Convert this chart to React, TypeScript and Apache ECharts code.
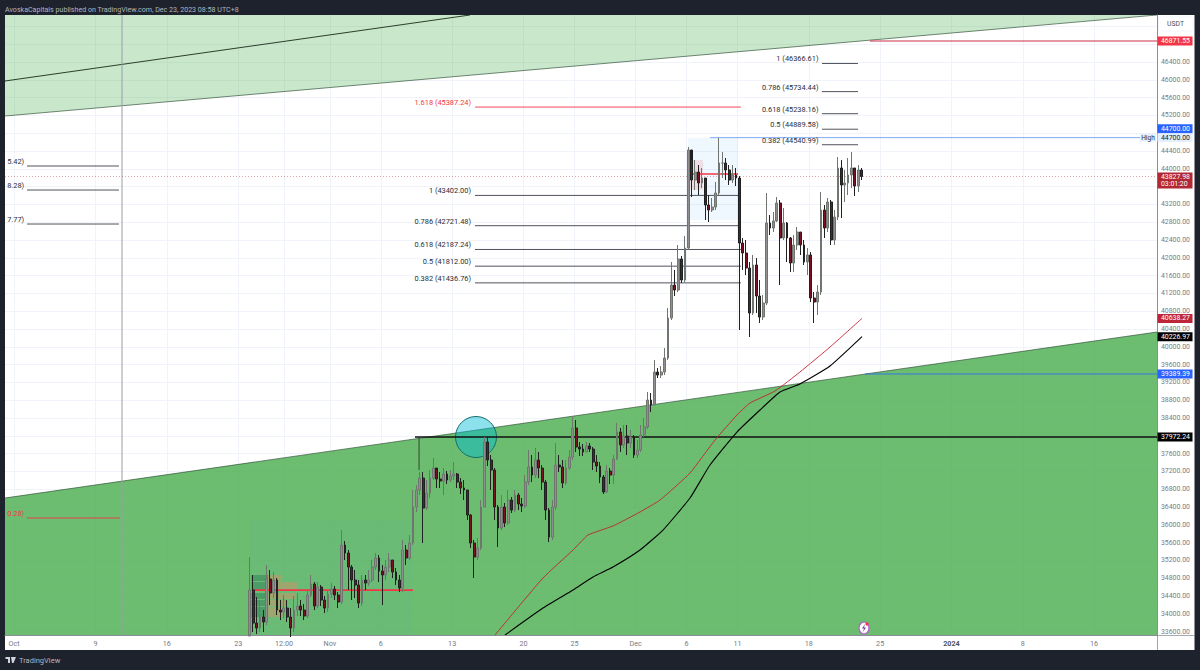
import React, { useEffect, useRef } from "react";
import * as echarts from "echarts";

const xTickDays = [0, 8, 15, 22, 26.5, 31, 36, 43, 50, 55, 61, 66, 71, 78, 85, 92, 99, 106];
const xTickLabels = ["Oct", "9", "16", "23", "12:00", "Nov", "6", "13", "20", "25", "Dec", "6", "11", "18", "25", "2024", "8", "16"];
const priceTicks = [33600, 34000, 34400, 34800, 35200, 35600, 36000, 36400, 36800, 37200, 37600, 38000, 38400, 38800, 39200, 39600, 40000, 40400, 40800, 41200, 41600, 42000, 42400, 42800, 43200, 43600, 44000, 44400, 44800, 45200, 45600, 46000, 46400, 46800, 47200];
const priceLabelled = [33600, 34000, 34400, 34800, 35200, 35600, 36000, 36400, 36800, 37200, 37600, 38000, 38400, 38800, 39200, 39600, 40000, 40400, 40800, 41200, 41600, 42000, 42400, 42800, 43200, 44000, 44400, 45200, 45600, 46000, 46400];

const candleFirstDay = 23.14;
const candleLastDay = 83.19;
const closes = [
  34535, 33793, 33681, 33928, 33816, 34782, 34467, 34759, 34085, 34040,
  34130, 33928, 33681, 34085, 34175, 34085, 33950, 34422, 34669, 34175,
  34602, 34310, 34130, 34445, 34557, 34422, 34265, 35546, 35366, 35051,
  34759, 34647, 34242, 34759, 34692, 34759, 35051, 35254, 34961, 34872,
  35051, 35209, 34939, 34759, 34580, 35433, 35254, 35591, 36400, 36782,
  37051, 36377, 36714, 37051, 37276, 37029, 36984, 37141, 37006, 37096,
  37141, 36961, 36827, 36782, 36220, 35591, 35276, 35478, 36400, 37860,
  37456, 37231, 36400, 35928, 36400, 36040, 36557, 36332, 36669, 36467,
  36422, 36961, 37298, 37119, 37456, 37276, 36961, 36332, 35725, 36400,
  37343, 37298, 36939, 37276, 37523, 38175, 37748, 37703, 37636, 37771,
  37703, 37411, 37321, 37074, 36737, 37209, 37119, 37478, 38085, 37793,
  37995, 37838, 37973, 37568, 37681, 38018, 38197, 38804, 38692, 39433,
  39366, 39433, 39748, 40647, 41388, 41276, 41973, 41501, 42220, 44422,
  43748, 43928, 43681, 43793, 43186, 43074, 43141, 43456, 44130, 44130,
  43973, 43748, 43860, 43793, 42332, 42108, 41770, 40760, 41838, 41141,
  40669, 40984, 42782, 42669, 42827, 43231, 42445, 42782, 42445, 41883,
  42287, 42579, 42287, 41905, 42063, 41096, 41006, 41231, 43074, 42669,
  43254, 42400, 42917, 44018, 43636, 43681, 43860, 44018, 43613, 43973,
  43827.98,
];
const highs = [
  35276, 34872, 34377, 34310, 34085, 35096, 34984, 34939, 34804, 34310,
  34422, 34310, 34130, 34400, 34467, 34310, 34220, 34535, 34872, 34714,
  34714, 34647, 34400, 34535, 34692, 34625, 34490, 35883, 35636, 35433,
  35096, 34984, 34759, 34872, 34872, 34984, 35209, 35366, 35321, 35096,
  35209, 35366, 35209, 35029, 34872, 35658, 35546, 35770, 36782, 36894,
  37186, 37186, 37006, 37231, 37501, 37231, 37186, 37276, 37209, 37231,
  37411, 37164, 37051, 37006, 36782, 36242, 35658, 35703, 36557, 37973,
  37973, 37568, 37276, 36445, 36669, 36490, 36782, 36624, 36782, 36714,
  36602, 37119, 37681, 37568, 37726, 37636, 37343, 37006, 36377, 36557,
  37838, 37568, 37456, 37456, 37681, 38422, 38355, 37860, 37815, 37860,
  37838, 37748, 37568, 37411, 37119, 37343, 37276, 37568, 38287, 38175,
  38242, 38242, 38130, 38018, 37905, 38242, 38400, 38984, 38962, 39703,
  39523, 39568, 39973, 40872, 41905, 41726, 42287, 42040, 42490, 44490,
  44197, 44197, 44085, 44018, 43748, 43411, 43344, 43703, 44692, 44377,
  44242, 44085, 44085, 44018, 43838, 42445, 42400, 41905, 42063, 41995,
  41501, 41164, 43456, 42961, 43029, 43366, 43299, 43119, 42804, 42467,
  42512, 42692, 42579, 42400, 42220, 42130, 41231, 41388, 43478, 43186,
  43344, 43299, 43074, 44265, 44197, 43973, 44242, 44377, 43973, 44085,
  44018,
];
const lows = [
  33501, 33591, 33546, 33591, 33591, 33748, 34197, 34355, 33973, 33860,
  33905, 33816, 33478, 33591, 33950, 33950, 33860, 33905, 34377, 34085,
  34130, 34175, 34018, 34040, 34355, 34310, 34130, 34220, 35209, 34535,
  34310, 34355, 34130, 34175, 34535, 34625, 34714, 34984, 34714, 34197,
  34759, 34939, 34804, 34647, 34490, 34490, 35096, 35209, 35546, 36287,
  36669, 35591, 36332, 36602, 37006, 36827, 36827, 36669, 36916, 36961,
  37006, 36827, 36692, 36557, 36108, 35478, 34804, 35209, 35433, 36400,
  37321, 36782, 36108, 35501, 35883, 35950, 35995, 36265, 36287, 36332,
  36287, 36377, 36894, 36961, 37051, 37051, 36782, 36108, 35613, 35658,
  36332, 37186, 36827, 36894, 37231, 37456, 37636, 37546, 37546, 37636,
  37636, 37231, 37186, 36939, 36692, 36714, 36916, 36916, 37456, 37636,
  37726, 37568, 37726, 37501, 37501, 37636, 37973, 38153, 38535, 38692,
  39299, 39299, 39366, 39703, 40602, 41141, 41231, 41434, 41456, 42175,
  43366, 43523, 43411, 43568, 42849, 42804, 43029, 43074, 43411, 43793,
  43748, 43636, 43681, 43613, 40377, 41726, 41613, 40220, 40714, 40760,
  40535, 40602, 40939, 42512, 42579, 42804, 41388, 42400, 41905, 41681,
  41681, 42175, 42063, 41838, 41613, 41006, 40535, 40714, 41164, 42445,
  42579, 42287, 42287, 42849, 42894, 43254, 43411, 43568, 43388, 43478,
  43748,
];
const firstOpen = 33501;

const redAverage = [
  [47.2, 33523], [51.91, 34804], [54.86, 35433], [56.33, 35770], [58.78, 35973], [61.43, 36287], [63.4, 36557], [66.34, 37164],
  [68.79, 37905], [70.95, 38467], [72.23, 38737], [74.68, 39006], [77.13, 39433], [80.08, 39995], [83.22, 40638.27],
];
const blackAverage = [
  [48.18, 33523], [51.91, 34130], [54.86, 34535], [56.82, 34827], [58.78, 35051], [61.43, 35433], [63.69, 35883], [66.34, 36602],
  [68.3, 37343], [70.95, 38085], [73.21, 38580], [75.17, 38984], [77.13, 39164], [80.08, 39568], [83.22, 40226.97],
];

const paneLeftDay = -0.883;
const paneRightDay = 112.17;
const paneBottomPrice = 33524;
const paneTopPrice = 47456;

const lightBand = [[paneLeftDay, 45186], [paneRightDay, 47456], [paneLeftDay, 47456]];
const darkBand = [[paneLeftDay, 36602], [paneRightDay, 40333], [paneRightDay, 33524], [paneLeftDay, 33524]];
const bandEdges = [
  [paneLeftDay, 45186, paneRightDay, 47456],
  [paneLeftDay, 36602, paneRightDay, 40333],
];
const blackTrend = [[paneLeftDay, 45973, 44.75, 47456]];
const verticalMarker = [[10.6, paneBottomPrice, 10.6, paneTopPrice]];

const lowerRangeBox = [[23.2, 39.16, 33524, 36108]];
const upperRangeBox = [[66.14, 71.05, 42849, 44700]];
const profileTan = [
  [24.93, 26.3, 34737, 34872], [24.93, 27.87, 34512, 34714], [24.93, 27.58, 34332, 34467], [24.93, 26.6, 34175, 34310], [24.93, 26.4, 33928, 34152],
];
const profileDark = [
  [23.3, 24.93, 34737, 34872], [23.3, 24.93, 34512, 34714], [23.3, 24.93, 34332, 34467], [23.3, 24.93, 34175, 34310], [23.3, 24.93, 33928, 34152],
];
const profilePink = [[66.3, 67.6, 43523, 44197]];
const pocLines = [
  [23.45, 34532, 39.16, 34532],
  [66.14, 43883, 71.05, 43883],
];

const fibDark = [
  [45.24, 43402, 71.34, 43402], [45.24, 42721.48, 71.34, 42721.48], [45.24, 42187.24, 71.34, 42187.24], [45.24, 41812, 71.34, 41812], [45.24, 41436.76, 71.34, 41436.76],
  [79.29, 46366.61, 82.83, 46366.61], [79.29, 45734.44, 82.83, 45734.44], [79.29, 45238.16, 82.83, 45238.16], [79.29, 44889.58, 82.83, 44889.58], [79.29, 44540.99, 82.83, 44540.99],
  [1.28, 44063, 10.3, 44063], [1.28, 43523, 10.3, 43523], [1.28, 42759, 10.3, 42759],
];
const fibRed = [[45.24, 45387.24, 71.34, 45387.24], [1.28, 36153, 10.4, 36153]];
const fibDarkText = [
  [44.85, 43402], [44.85, 42721.48], [44.85, 42187.24], [44.85, 41812], [44.85, 41436.76],
  [78.95, 46366.61], [78.95, 45734.44], [78.95, 45238.16], [78.95, 44889.58], [78.95, 44540.99],
  [1.0, 44063], [1.0, 43523], [1.0, 42759],
];
const fibDarkLabels = [
  "1 (43402.00)", "0.786 (42721.48)", "0.618 (42187.24)", "0.5 (41812.00)", "0.382 (41436.76)",
  "1 (46366.61)", "0.786 (45734.44)", "0.618 (45238.16)", "0.5 (44889.58)", "0.382 (44540.99)",
  "5.42)", "8.28)", "7.77)",
];
const fibRedText = [[44.85, 45387.24], [1.0, 36153]];
const fibRedLabels = ["1.618 (45387.24)", "0.28)"];

const redLevel = [[84.0, 46871.55, paneRightDay, 46871.55]];
const highLevel = [[68.3, 44700, 110.5, 44700]];
const blueLevel = [[83.51, 39389.39, paneRightDay, 39389.39]];
const blackLevel = [[39.35, 37972.24, paneRightDay, 37972.24]];
const blackAnchor = [[39.75, 37972.24, 39.75, 37231]];
const currentLevel = [[paneLeftDay, 43827.98, paneRightDay, 43827.98]];

const dropCircle = [[45.34, 37973]];
const circleRadiusDays = 2.01;

const tagPrices = [46871.55, 44700, 44700, 43827.98, 40638.27, 40226.97, 39389.39, 37972.24];
const tagLabels = ["46871.55", "44700.00", "44700.00", "43827.98", "40638.27", "40226.97", "39389.39", "37972.24"];
const tagFills = ["#f23645", "#2962ff", "#e3effd", "#b22833", "#bd2638", "#000000", "#2962ff", "#000000"];
const tagInks = ["#ffffff", "#ffffff", "#131722", "#ffffff", "#ffffff", "#ffffff", "#ffffff", "#ffffff"];
const tagShifts = [0, -9, 0, 4, 0, 0, 0, 0];
const tagHeights = [9, 9, 8.5, 16, 9, 9, 9, 9];
const countdownText = "03:01:20";

const uiFont = "Roboto, 'Noto Sans', sans-serif";

function segments(name: string, data: number[][], color: string, width: number, dash?: number[], clip = true) {
  return {
    type: "custom", name, data, silent: true, clip,
    renderItem: (_p: any, api: any) => {
      const a = api.coord([api.value(0), api.value(1)]);
      const b = api.coord([api.value(2), api.value(3)]);
      return {
        type: "line",
        shape: { x1: a[0], y1: a[1], x2: b[0], y2: b[1] },
        style: { stroke: color, lineWidth: width, lineDash: dash, fill: null },
      };
    },
  };
}

function boxes(name: string, data: number[][], fill: string) {
  return {
    type: "custom", name, data, silent: true, clip: true,
    renderItem: (_p: any, api: any) => {
      const a = api.coord([api.value(0), api.value(3)]);
      const b = api.coord([api.value(1), api.value(2)]);
      return { type: "rect", shape: { x: a[0], y: a[1], width: b[0] - a[0], height: b[1] - a[1] }, style: { fill } };
    },
  };
}

function band(name: string, points: number[][], fill: string) {
  return {
    type: "custom", name, data: [points[0]], silent: true, clip: true,
    renderItem: (_p: any, api: any) => ({
      type: "polygon",
      shape: { points: points.map((pt) => api.coord(pt)) },
      style: { fill },
    }),
  };
}

function texts(name: string, data: number[][], labels: string[], color: string) {
  return {
    type: "custom", name, data, silent: true,
    renderItem: (p: any, api: any) => {
      const a = api.coord([api.value(0), api.value(1)]);
      return {
        type: "text", x: a[0], y: a[1] - 4.5,
        style: { text: labels[p.dataIndex], fill: color, font: `7.4px ${uiFont}`, textAlign: "right", textVerticalAlign: "middle" },
      };
    },
  };
}

export default function App() {
  const ref = useRef<HTMLDivElement>(null);
  useEffect(() => {
    const chart = echarts.init(ref.current!, undefined, { renderer: "svg" });
    const step = (candleLastDay - candleFirstDay) / (closes.length - 1);
    const candles = closes.map((c, i) => [
      candleFirstDay + i * step,
      i === 0 ? firstOpen : closes[i - 1],
      c,
      lows[i],
      highs[i],
    ]);
    chart.setOption({
      animation: false,
      backgroundColor: "#1e222d",
      grid: { left: 5, top: 15, width: 1152, height: 620, show: false },
      xAxis: {
        type: "value", min: paneLeftDay, max: paneRightDay,
        axisLine: { show: true, onZero: false, lineStyle: { color: "#8a8d96", width: 1 } },
        axisTick: { show: false, customValues: xTickDays },
        splitLine: { show: true, lineStyle: { color: "#f0f3fa", width: 1 } },
        axisLabel: {
          customValues: xTickDays, margin: 5, fontSize: 7.2, color: "#787b86", fontFamily: uiFont,
          hideOverlap: false,
          formatter: (v: number) => {
            const s = xTickLabels[xTickDays.indexOf(v)] ?? "";
            return s === "2024" ? `{b|${s}}` : s;
          },
          rich: { b: { fontSize: 7.2, fontWeight: 700, color: "#50535e", fontFamily: uiFont } },
        },
      },
      yAxis: {
        type: "value", position: "right", min: paneBottomPrice, max: paneTopPrice,
        axisLine: { show: true, onZero: false, lineStyle: { color: "#8a8d96", width: 1 } },
        axisTick: { show: false, customValues: priceTicks },
        splitLine: { show: true, lineStyle: { color: "#f0f3fa", width: 1 } },
        axisLabel: {
          customValues: priceLabelled, margin: 4, fontSize: 6.9, color: "#787b86", fontFamily: uiFont,
          formatter: (v: number) => v.toFixed(2),
        },
      },
      graphic: {
        elements: [
          { type: "rect", z: -10, silent: true, shape: { x: 5, y: 15, width: 1189.5, height: 635 }, style: { fill: "#ffffff" } },
          { type: "rect", z: -9, silent: true, shape: { x: 1157, y: 635, width: 37.5, height: 0.8 }, style: { fill: "#8a8d96" } },
          { type: "rect", z: -9, silent: true, shape: { x: 1157, y: 635, width: 0.8, height: 15 }, style: { fill: "#8a8d96" } },
          { type: "text", z: 50, silent: true, x: 5, y: 9.5, style: { text: "AvoskaCapitals published on TradingView.com, Dec 23, 2023 08:58 UTC+8", fill: "#b2b5be", font: `7.1px ${uiFont}`, textVerticalAlign: "middle" } },
          { type: "rect", z: 50, silent: true, shape: { x: 1158.5, y: 17, width: 34.5, height: 14, r: 2 }, style: { fill: "#ffffff", stroke: "#f0f3fa", lineWidth: 0.8 } },
          { type: "text", z: 51, silent: true, x: 1175.5, y: 24, style: { text: "USDT", fill: "#4a4e5a", font: `6.8px ${uiFont}`, textAlign: "center", textVerticalAlign: "middle" } },
          { type: "polygon", z: 50, silent: true, shape: { points: [[5.5, 657], [10, 657], [10, 663], [8, 663], [8, 659], [5.5, 659]] }, style: { fill: "#d1d4dc" } },
          { type: "polygon", z: 50, silent: true, shape: { points: [[11, 657], [16, 657], [13.5, 663], [12, 663]] }, style: { fill: "#d1d4dc" } },
          { type: "text", z: 50, silent: true, x: 19, y: 660.5, style: { text: "TradingView", fill: "#b2b5be", font: `7.5px ${uiFont}`, textVerticalAlign: "middle" } },
          { type: "ellipse", z: 50, silent: true, shape: { cx: 864, cy: 628, rx: 5, ry: 6 }, style: { fill: "#ffffff", stroke: "#b05ad0", lineWidth: 1.2 } },
          { type: "polygon", z: 51, silent: true, shape: { points: [[865, 624], [862, 628.5], [864, 628.5], [863, 632], [866, 627.5], [864, 627.5]] }, style: { fill: "#7b3fa0" } },
          { type: "circle", z: 52, silent: true, shape: { cx: 867, cy: 624, r: 1.6 }, style: { fill: "#f23645" } },
        ],
      },
      series: [
        band("light band", lightBand, "rgba(76,175,80,0.3)"),
        band("dark band", darkBand, "rgba(76,175,80,0.82)"),
        segments("band edges", bandEdges, "rgba(40,70,45,0.8)", 0.8),
        segments("upper trend", blackTrend, "#1a2a1a", 0.9),
        segments("date marker", verticalMarker, "#9a9da5", 1),
        boxes("lower range box", lowerRangeBox, "rgba(33,150,243,0.035)"),
        boxes("upper range box", upperRangeBox, "rgba(33,150,243,0.07)"),
        boxes("profile dark", profileDark, "rgba(0,77,64,0.28)"),
        boxes("profile tan", profileTan, "rgba(255,130,100,0.35)"),
        boxes("profile pink", profilePink, "rgba(242,54,69,0.14)"),
        {
          type: "custom", name: "drop circle", data: dropCircle, silent: true,
          renderItem: (_p: any, api: any) => {
            const c = api.coord([api.value(0), api.value(1)]);
            const r = api.size([circleRadiusDays, 0])[0];
            return { type: "circle", shape: { cx: c[0], cy: c[1], r }, style: { fill: "rgba(0,188,212,0.45)", stroke: "#136d6a", lineWidth: 1 } };
          },
        },
        segments("fib dark", fibDark, "#3c3f47", 0.9),
        segments("fib red", fibRed, "#f23645", 0.9),
        segments("high", highLevel, "#82a8f5", 1),
        segments("resistance", redLevel, "#cc2f48", 1),
        segments("support", blueLevel, "#2962ff", 0.8),
        segments("current", currentLevel, "rgba(190,60,70,0.6)", 0.8, [1, 2]),
        {
          type: "candlestick", name: "BTCUSDT", data: candles, barWidth: 2.3, silent: true, clip: true,
          encode: { x: 0, y: [1, 2, 3, 4] },
          itemStyle: { color: "#8f8f8f", color0: "#7a1024", borderColor: "#707570", borderColor0: "#202020", borderWidth: 1 },
        },
        segments("level", blackLevel, "#111111", 1.4),
        segments("level anchor", blackAnchor, "#2a3a2a", 0.9),
        segments("poc", pocLines, "#f23645", 1.6),
        {
          type: "line", name: "red average", data: redAverage, showSymbol: false, symbol: "none", silent: true, clip: true,
          smooth: 0.15, lineStyle: { color: "#c5212f", width: 0.9 },
        },
        {
          type: "line", name: "black average", data: blackAverage, showSymbol: false, symbol: "none", silent: true, clip: true,
          smooth: 0.15, lineStyle: { color: "#000000", width: 1.1 },
        },
        texts("fib labels", fibDarkText, fibDarkLabels, "#2a2e39"),
        texts("fib red labels", fibRedText, fibRedLabels, "#f23645"),
        {
          type: "custom", name: "high note", data: [[110.5, 44700]], silent: true, z: 8,
          renderItem: (_p: any, api: any) => {
            const a = api.coord([api.value(0), api.value(1)]);
            return {
              type: "group",
              children: [
                { type: "rect", shape: { x: a[0], y: a[1] - 4, width: 16, height: 8 }, style: { fill: "#e3effd" } },
                { type: "text", x: a[0] + 8, y: a[1], style: { text: "High", fill: "#2a2e39", font: `6.6px ${uiFont}`, textAlign: "center", textVerticalAlign: "middle" } },
              ],
            };
          },
        },
        {
          type: "custom", name: "price tags", data: tagPrices.map((p) => [paneRightDay, p]), silent: true, z: 10,
          renderItem: (p: any, api: any) => {
            const i = p.dataIndex;
            const a = api.coord([api.value(0), api.value(1)]);
            const h = tagHeights[i];
            const cy = a[1] + tagShifts[i];
            const top = cy - h / 2;
            const children: any[] = [
              { type: "rect", shape: { x: a[0] + 0.5, y: top, width: 35, height: h }, style: { fill: tagFills[i] } },
              { type: "text", x: a[0] + 4, y: h > 10 ? top + 4.5 : cy, style: { text: tagLabels[i], fill: tagInks[i], font: `6.9px ${uiFont}`, textVerticalAlign: "middle" } },
            ];
            if (h > 10) {
              children.push({ type: "text", x: a[0] + 4, y: top + 12, style: { text: countdownText, fill: tagInks[i], font: `6.9px ${uiFont}`, textVerticalAlign: "middle" } });
            }
            return { type: "group", children };
          },
        },
      ],
    });
    return () => chart.dispose();
  }, []);
  return <div ref={ref} style={{ position: "absolute", left: 0, top: 0, width: 1200, height: 670 }} />;
}
